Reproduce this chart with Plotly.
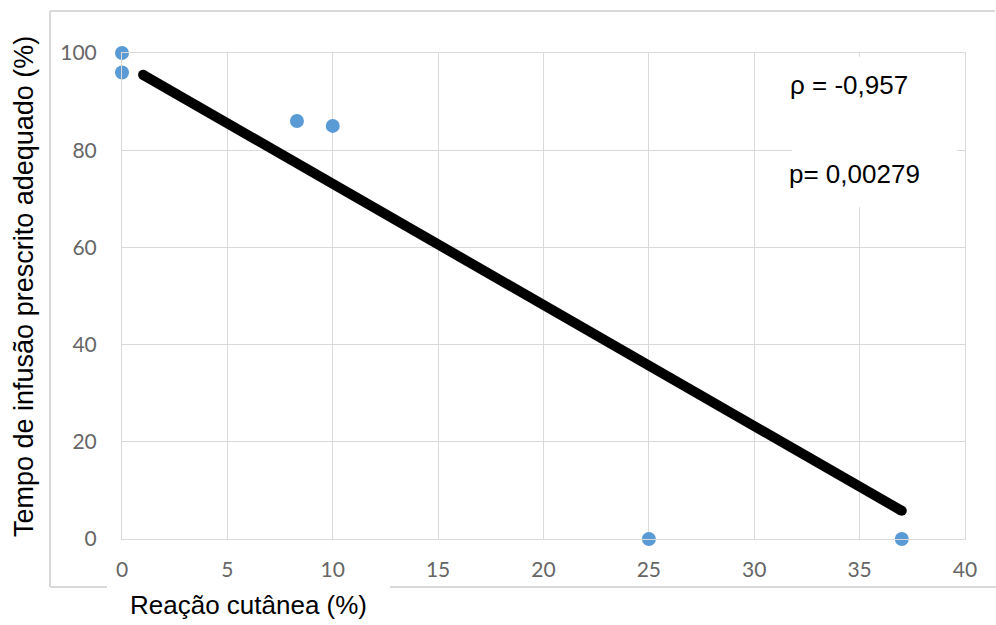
import plotly.graph_objects as go

# Data
reacao_x = [0, 0, 8.3, 10, 25, 37]
tempo_y = [100, 96, 86, 85, 0, 0]
trend_x = [1, 37]
trend_y = [95.5, 5.8]
x_ticks = [0, 5, 10, 15, 20, 25, 30, 35, 40]
y_ticks = [0, 20, 40, 60, 80, 100]
rho_text = "ρ = -0,957"
p_text = "p= 0,00279"
x_title = "Reação cutânea (%)"
y_title = "Tempo de infusão prescrito adequado (%)"

W, H = 996, 625
L, R, T, B = 122, 31, 53, 86
pw, ph = W - L - R, H - T - B

def px(xp):
    return (xp - L) / pw

def py(yp):
    return (H - B - yp) / ph

fig = go.Figure()
fig.add_trace(go.Scatter(
    x=trend_x, y=trend_y, mode="lines+markers",
    line=dict(color="black", width=10),
    marker=dict(color="black", size=10),
    cliponaxis=False, showlegend=False, hoverinfo="skip"))
fig.add_trace(go.Scatter(
    x=reacao_x, y=tempo_y, mode="markers",
    marker=dict(color="#5b9bd5", size=14),
    cliponaxis=False, showlegend=False))

grid = "#d9d9d9"
tickfont = dict(size=21, color="#666666", family="Lato, Open Sans, sans-serif")
fig.update_layout(
    width=W, height=H,
    margin=dict(l=L, r=R, t=T, b=B),
    paper_bgcolor="white", plot_bgcolor="white",
    font=dict(family="Liberation Sans, Arial, sans-serif", color="black"),
    xaxis=dict(range=[0, 40], tickvals=x_ticks, showgrid=True, gridcolor=grid,
               gridwidth=1, zeroline=False, showline=True, linecolor=grid,
               mirror=True, ticks="", ticklabelstandoff=12, tickfont=tickfont),
    yaxis=dict(range=[0, 100], tickvals=y_ticks, showgrid=True, gridcolor=grid,
               gridwidth=1, zeroline=False, showline=True, linecolor=grid,
               mirror=True, ticks="", ticklabelstandoff=20, tickfont=tickfont),
)

# white box behind the statistics text (covers gridlines)
fig.add_shape(type="rect", xref="paper", yref="paper",
              x0=px(792), x1=px(957), y0=py(207), y1=py(57),
              fillcolor="white", line=dict(width=0), layer="above")

def note(xp, yp, text, size, angle=0):
    fig.add_annotation(x=px(xp), y=py(yp), xref="paper", yref="paper",
                       xanchor="center", yanchor="middle", text=text,
                       showarrow=False, textangle=angle, font=dict(size=size))

note(849, 85, rho_text, 26)
note(854, 174, p_text, 26)

# outer chart border fragments
border = dict(color=grid, width=2)
fig.add_shape(type="line", xref="paper", yref="paper",
              x0=px(50), x1=px(995), y0=py(11), y1=py(11), line=border)
fig.add_shape(type="line", xref="paper", yref="paper",
              x0=px(50), x1=px(50), y0=py(11), y1=py(587), line=border)
fig.add_shape(type="line", xref="paper", yref="paper",
              x0=px(50), x1=px(107), y0=py(587), y1=py(587), line=border)
fig.add_shape(type="line", xref="paper", yref="paper",
              x0=px(390), x1=px(996), y0=py(587), y1=py(587), line=border)

note(248, 605, x_title, 26)
note(24, 287, y_title, 27, angle=-90)

fig.write_html("out.html", config={"displayModeBar": False},
               post_script="document.body.style.margin='0';document.body.style.overflow='hidden';")
